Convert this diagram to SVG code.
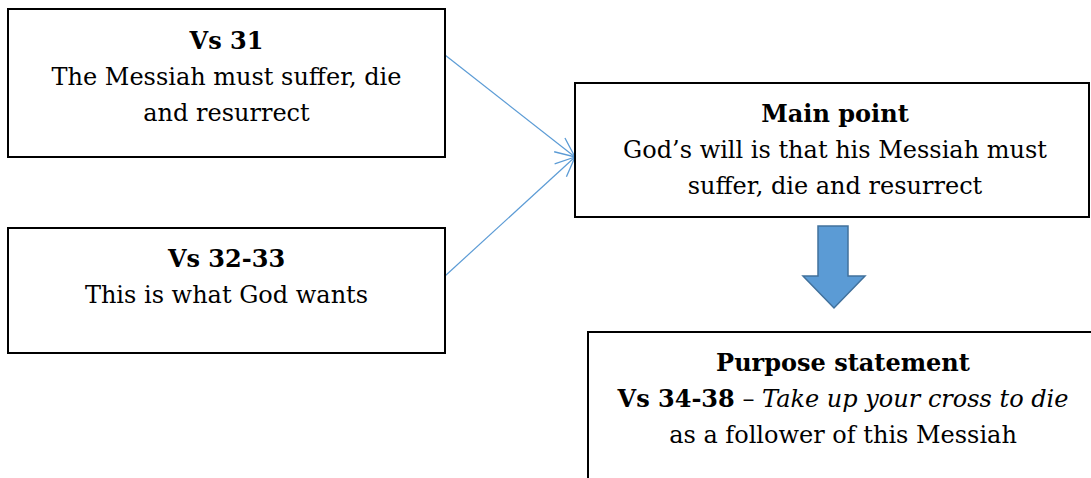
<svg xmlns="http://www.w3.org/2000/svg" width="1091" height="478" viewBox="0 0 1091 478">
  <style>
    .box { fill: #ffffff; stroke: #000000; stroke-width: 2; }
    .t { font-family: "DejaVu Serif", "Liberation Serif", serif; font-size: 24px; fill: #000000; text-anchor: middle; }
    .b { font-weight: bold; }
    .i { font-style: italic; }
    .conn { stroke: #5B9BD5; stroke-width: 1.2; fill: none; }
  </style>
  <defs>
    <marker id="open" markerUnits="userSpaceOnUse" markerWidth="24" markerHeight="24" refX="0" refY="0" viewBox="-20 -10 22 20" orient="auto">
      <path d="M -18 -8 L 0 0 L -18 8" fill="none" stroke="#5B9BD5" stroke-width="1.2"/>
    </marker>
  </defs>
  <rect width="1091" height="478" fill="#ffffff"/>

  <g id="connectors">
    <line class="conn" x1="445" y1="55" x2="575" y2="157" marker-end="url(#open)"/>
    <line class="conn" x1="445" y1="276" x2="575" y2="157" marker-end="url(#open)"/>
    <path id="block-arrow" d="M 818 226 H 848 V 276 H 865 L 834 308 L 803 276 H 818 Z" fill="#5B9BD5" stroke="#41719C" stroke-width="1.5"/>
  </g>

  <g id="vs31">
    <rect class="box" x="8" y="9" width="437" height="148"/>
    <text class="t b" x="226.5" y="49">Vs 31</text>
    <text class="t" x="226.5" y="85">The Messiah must suffer, die</text>
    <text class="t" x="226.5" y="121">and resurrect</text>
  </g>

  <g id="vs32-33">
    <rect class="box" x="8" y="228" width="437" height="125"/>
    <text class="t b" x="226.5" y="267">Vs 32-33</text>
    <text class="t" x="226.5" y="303">This is what God wants</text>
  </g>

  <g id="main-point">
    <rect class="box" x="575" y="83" width="514" height="134"/>
    <text class="t b" x="835" y="122">Main point</text>
    <text class="t" x="835" y="158">God’s will is that his Messiah must</text>
    <text class="t" x="835" y="194">suffer, die and resurrect</text>
  </g>

  <g id="purpose">
    <path d="M 588 478 V 332 H 1092" fill="none" stroke="#000000" stroke-width="2"/>
    <text class="t b" x="843" y="371">Purpose statement</text>
    <text class="t" x="843" y="407"><tspan class="b">Vs 34-38</tspan> – <tspan class="i">Take up your cross to die</tspan></text>
    <text class="t" x="843" y="443">as a follower of this Messiah</text>
  </g>
</svg>
